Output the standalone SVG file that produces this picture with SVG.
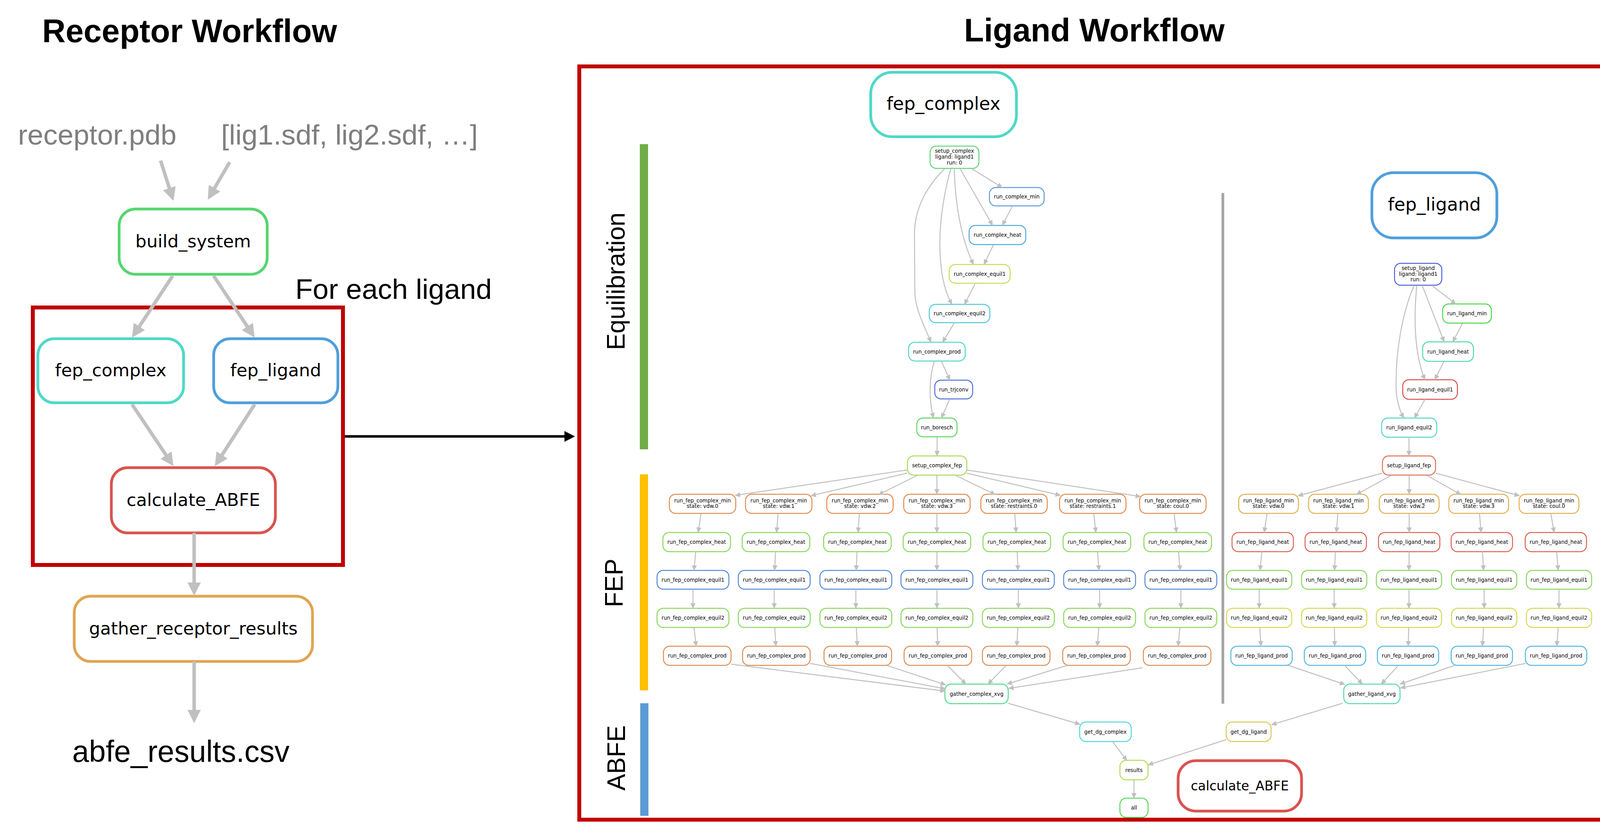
<svg xmlns="http://www.w3.org/2000/svg" width="4180" height="2150" viewBox="0 0 4180 2150">
<style>
.t{font-family:"DejaVu Sans",sans-serif;font-size:13.3px;text-anchor:middle;fill:#000}
.L{font-family:"DejaVu Sans",sans-serif;font-size:45px;text-anchor:middle;fill:#000}
.h{font-family:"Liberation Sans",Arial,sans-serif;font-weight:bold;font-size:83px;fill:#000}
.g{font-family:"Liberation Sans",Arial,sans-serif;font-size:73px;fill:#7f7f7f}
.k{font-family:"Liberation Sans",Arial,sans-serif;font-size:73px;fill:#000}
.v{font-family:"Liberation Sans",Arial,sans-serif;font-size:64px;fill:#000;text-anchor:middle}
.e{fill:none;stroke:#c0c0c0;stroke-width:2.5;marker-end:url(#a)}
.E{fill:none;stroke:#c0c0c0;stroke-width:9;marker-end:url(#A)}
rect.s{fill:#fff;stroke-width:2.5}
rect.b{fill:#fff;stroke-width:7}
.o1{stroke:#e08c50}.gr{stroke:#88d858}.bl{stroke:#5588dc}
.ym{stroke:#e0b050}.rh{stroke:#e06050}.ye{stroke:#d8d850}.cp{stroke:#50b8e0}
</style>
<defs>
<marker id="a" markerUnits="userSpaceOnUse" markerWidth="14" markerHeight="14" refX="13" refY="7" orient="auto" viewBox="0 0 14 14"><path d="M0,0.5 L14,7 L0,13.5 z" fill="#c0c0c0"/></marker>
<marker id="A" markerUnits="userSpaceOnUse" markerWidth="34" markerHeight="34" refX="4" refY="17" orient="auto" viewBox="0 0 34 34"><path d="M0,0 L34,17 L0,34 z" fill="#c0c0c0"/></marker>
<marker id="K" markerUnits="userSpaceOnUse" markerWidth="28" markerHeight="28" refX="1" refY="14" orient="auto" viewBox="0 0 28 28"><path d="M0,0.3 L27,14 L0,27.7 z" fill="#000"/></marker>
</defs>
<rect width="4180" height="2150" fill="#fff"/>

<!-- titles and labels -->
<text class="h" x="108" y="108">Receptor Workflow</text>
<text class="h" x="2468" y="106">Ligand Workflow</text>
<text class="g" x="46" y="370">receptor.pdb</text>
<text class="g" x="566" y="370">[lig1.sdf, lig2.sdf, …]</text>
<text class="k" x="756" y="765">For each ligand</text>
<text class="k" x="185" y="1950" style="font-size:77px">abfe_results.csv</text>

<!-- frames -->
<rect x="84" y="787" width="794" height="659" fill="none" stroke="#c00000" stroke-width="10"/>
<rect x="1483" y="170" width="2628" height="1928" fill="none" stroke="#c00000" stroke-width="10"/>
<line x1="883" y1="1117" x2="1446" y2="1117" stroke="#000" stroke-width="6.5" marker-end="url(#K)"/>

<!-- stage bars -->
<rect x="1638" y="369" width="21" height="781" fill="#70ad47"/>
<rect x="1638" y="1214" width="21" height="553" fill="#ffc000"/>
<rect x="1639" y="1800" width="21" height="288" fill="#5b9bd5"/>
<text class="v" transform="translate(1599,720) rotate(-90)">Equilibration</text>
<text class="v" transform="translate(1594,1492) rotate(-90)">FEP</text>
<text class="v" transform="translate(1600,1940) rotate(-90)">ABFE</text>
<line x1="3130.5" y1="494" x2="3130.5" y2="1801" stroke="#a6a6a6" stroke-width="7"/>

<!-- receptor workflow nodes -->
<g id="build_system"><rect class="b" x="305" y="535" width="379" height="167" rx="42" stroke="#55d66e"/><text class="L" x="494.5" y="633">build_system</text></g>
<g id="fep_complex_r"><rect class="b" x="97" y="867" width="373" height="164" rx="42" stroke="#4fd8c8"/><text class="L" x="283.5" y="963">fep_complex</text></g>
<g id="fep_ligand_r"><rect class="b" x="547" y="867" width="318" height="164" rx="42" stroke="#4f9fdc"/><text class="L" x="706" y="963">fep_ligand</text></g>
<g id="calculate_ABFE_r"><rect class="b" x="285" y="1197" width="420" height="167" rx="42" stroke="#d9534f"/><text class="L" x="495" y="1295">calculate_ABFE</text></g>
<g id="gather_receptor_results"><rect class="b" x="190" y="1526" width="610" height="167" rx="42" stroke="#e0a550"/><text class="L" x="495" y="1624">gather_receptor_results</text></g>

<!-- ligand workflow big nodes -->
<g id="fep_complex_big"><rect class="b" x="2229" y="185" width="373" height="165" rx="55" stroke="#4fd8c8"/><text class="L" x="2415.5" y="281" style="font-size:46px">fep_complex</text></g>
<g id="fep_ligand_big"><rect class="b" x="3512" y="442" width="320" height="167" rx="55" stroke="#4f9fdc"/><text class="L" x="3672" y="539" style="font-size:46px">fep_ligand</text></g>
<g id="calculate_ABFE_big"><rect class="b" x="3016" y="1947" width="316" height="129" rx="45" stroke="#d9534f"/><text class="L" x="3174" y="2023" style="font-size:33px">calculate_ABFE</text></g>

<!-- complex equilibration -->
<g id="setup_complex"><rect class="s" x="2381" y="374" width="125" height="57" rx="16" stroke="#5ed67a"/><text class="t" x="2443.5" y="390.5">setup_complex</text><text class="t" x="2443.5" y="405.5">ligand: ligand1</text><text class="t" x="2443.5" y="421">run: 0</text></g>
<g id="run_complex_min"><rect class="s" x="2533" y="480" width="140" height="47" rx="16" stroke="#5b9bdc"/><text class="t" x="2603" y="508">run_complex_min</text></g>
<g id="run_complex_heat"><rect class="s" x="2481" y="577" width="145" height="49" rx="16" stroke="#4fa9dc"/><text class="t" x="2553.5" y="606">run_complex_heat</text></g>
<g id="run_complex_equil1"><rect class="s" x="2430" y="677" width="156" height="48" rx="16" stroke="#c8dc55"/><text class="t" x="2508" y="705.5">run_complex_equil1</text></g>
<g id="run_complex_equil2"><rect class="s" x="2379" y="779" width="155" height="47" rx="16" stroke="#4fc8dc"/><text class="t" x="2456.5" y="807">run_complex_equil2</text></g>
<g id="run_complex_prod"><rect class="s" x="2326" y="876" width="145" height="48" rx="16" stroke="#4fd8c8"/><text class="t" x="2398.5" y="904.5">run_complex_prod</text></g>
<g id="run_trjconv"><rect class="s" x="2393" y="973" width="97" height="48" rx="16" stroke="#5070dc"/><text class="t" x="2441.5" y="1001.5">run_trjconv</text></g>
<g id="run_boresch"><rect class="s" x="2347" y="1070" width="103" height="48" rx="16" stroke="#5cd65c"/><text class="t" x="2398.5" y="1098.5">run_boresch</text></g>
<g id="setup_complex_fep"><rect class="s" x="2323" y="1167" width="152" height="49" rx="16" stroke="#a8dc55"/><text class="t" x="2399" y="1196">setup_complex_fep</text></g>

<!-- ligand equilibration -->
<g id="setup_ligand"><rect class="s" x="3570" y="674" width="121" height="56" rx="16" stroke="#5060dc"/><text class="t" x="3630.5" y="690.5">setup_ligand</text><text class="t" x="3630.5" y="705.5">ligand: ligand1</text><text class="t" x="3630.5" y="719.5">run: 0</text></g>
<g id="run_ligand_min"><rect class="s" x="3693" y="778" width="125" height="49" rx="16" stroke="#4cd64c"/><text class="t" x="3755.5" y="807">run_ligand_min</text></g>
<g id="run_ligand_heat"><rect class="s" x="3642" y="875" width="130" height="50" rx="16" stroke="#4fd8b0"/><text class="t" x="3707" y="904.5">run_ligand_heat</text></g>
<g id="run_ligand_equil1"><rect class="s" x="3591" y="972" width="140" height="50" rx="16" stroke="#d95050"/><text class="t" x="3661" y="1001.5">run_ligand_equil1</text></g>
<g id="run_ligand_equil2"><rect class="s" x="3537" y="1070" width="141" height="49" rx="16" stroke="#4fd8bf"/><text class="t" x="3607.5" y="1099">run_ligand_equil2</text></g>
<g id="setup_ligand_fep"><rect class="s" x="3539" y="1167" width="136" height="49" rx="16" stroke="#e07050"/><text class="t" x="3607" y="1196">setup_ligand_fep</text></g>

<!-- complex FEP columns -->
<g id="cmin0"><rect class="s o1" x="1713.5" y="1265" width="170" height="49" rx="16"/><text class="t" x="1798.5" y="1286">run_fep_complex_min</text><text class="t" x="1798.5" y="1300">state: vdw.0</text></g>
<g id="cmin1"><rect class="s o1" x="1908.5" y="1265" width="170" height="49" rx="16"/><text class="t" x="1993.5" y="1286">run_fep_complex_min</text><text class="t" x="1993.5" y="1300">state: vdw.1</text></g>
<g id="cmin2"><rect class="s o1" x="2116.5" y="1265" width="170" height="49" rx="16"/><text class="t" x="2201.5" y="1286">run_fep_complex_min</text><text class="t" x="2201.5" y="1300">state: vdw.2</text></g>
<g id="cmin3"><rect class="s o1" x="2313.5" y="1265" width="170" height="49" rx="16"/><text class="t" x="2398.5" y="1286">run_fep_complex_min</text><text class="t" x="2398.5" y="1300">state: vdw.3</text></g>
<g id="cmin4"><rect class="s o1" x="2511" y="1265" width="170" height="49" rx="16"/><text class="t" x="2596" y="1286">run_fep_complex_min</text><text class="t" x="2596" y="1300">state: restraints.0</text></g>
<g id="cmin5"><rect class="s o1" x="2712.5" y="1265" width="170" height="49" rx="16"/><text class="t" x="2797.5" y="1286">run_fep_complex_min</text><text class="t" x="2797.5" y="1300">state: restraints.1</text></g>
<g id="cmin6"><rect class="s o1" x="2917.5" y="1265" width="170" height="49" rx="16"/><text class="t" x="3002.5" y="1286">run_fep_complex_min</text><text class="t" x="3002.5" y="1300">state: coul.0</text></g>

<g id="cheat0"><rect class="s gr" x="1697" y="1363" width="173" height="49" rx="16"/><text class="t" x="1783.5" y="1392">run_fep_complex_heat</text></g>
<g id="cheat1"><rect class="s gr" x="1900" y="1363" width="173" height="49" rx="16"/><text class="t" x="1986.5" y="1392">run_fep_complex_heat</text></g>
<g id="cheat2"><rect class="s gr" x="2108.5" y="1363" width="173" height="49" rx="16"/><text class="t" x="2195" y="1392">run_fep_complex_heat</text></g>
<g id="cheat3"><rect class="s gr" x="2312" y="1363" width="173" height="49" rx="16"/><text class="t" x="2398.5" y="1392">run_fep_complex_heat</text></g>
<g id="cheat4"><rect class="s gr" x="2516.5" y="1363" width="173" height="49" rx="16"/><text class="t" x="2603" y="1392">run_fep_complex_heat</text></g>
<g id="cheat5"><rect class="s gr" x="2721.5" y="1363" width="173" height="49" rx="16"/><text class="t" x="2808" y="1392">run_fep_complex_heat</text></g>
<g id="cheat6"><rect class="s gr" x="2928.5" y="1363" width="173" height="49" rx="16"/><text class="t" x="3015" y="1392">run_fep_complex_heat</text></g>

<g id="ceqa0"><rect class="s bl" x="1682" y="1460" width="184" height="48" rx="16"/><text class="t" x="1774" y="1488.5">run_fep_complex_equil1</text></g>
<g id="ceqa1"><rect class="s bl" x="1890" y="1460" width="184" height="48" rx="16"/><text class="t" x="1982" y="1488.5">run_fep_complex_equil1</text></g>
<g id="ceqa2"><rect class="s bl" x="2099" y="1460" width="184" height="48" rx="16"/><text class="t" x="2191" y="1488.5">run_fep_complex_equil1</text></g>
<g id="ceqa3"><rect class="s bl" x="2306.5" y="1460" width="184" height="48" rx="16"/><text class="t" x="2398.5" y="1488.5">run_fep_complex_equil1</text></g>
<g id="ceqa4"><rect class="s bl" x="2515" y="1460" width="184" height="48" rx="16"/><text class="t" x="2607" y="1488.5">run_fep_complex_equil1</text></g>
<g id="ceqa5"><rect class="s bl" x="2723" y="1460" width="184" height="48" rx="16"/><text class="t" x="2815" y="1488.5">run_fep_complex_equil1</text></g>
<g id="ceqa6"><rect class="s bl" x="2931" y="1460" width="184" height="48" rx="16"/><text class="t" x="3023" y="1488.5">run_fep_complex_equil1</text></g>

<g id="ceqb0"><rect class="s gr" x="1682" y="1557" width="184" height="49" rx="16"/><text class="t" x="1774" y="1586">run_fep_complex_equil2</text></g>
<g id="ceqb1"><rect class="s gr" x="1890" y="1557" width="184" height="49" rx="16"/><text class="t" x="1982" y="1586">run_fep_complex_equil2</text></g>
<g id="ceqb2"><rect class="s gr" x="2099" y="1557" width="184" height="49" rx="16"/><text class="t" x="2191" y="1586">run_fep_complex_equil2</text></g>
<g id="ceqb3"><rect class="s gr" x="2306.5" y="1557" width="184" height="49" rx="16"/><text class="t" x="2398.5" y="1586">run_fep_complex_equil2</text></g>
<g id="ceqb4"><rect class="s gr" x="2515" y="1557" width="184" height="49" rx="16"/><text class="t" x="2607" y="1586">run_fep_complex_equil2</text></g>
<g id="ceqb5"><rect class="s gr" x="2723" y="1557" width="184" height="49" rx="16"/><text class="t" x="2815" y="1586">run_fep_complex_equil2</text></g>
<g id="ceqb6"><rect class="s gr" x="2931" y="1557" width="184" height="49" rx="16"/><text class="t" x="3023" y="1586">run_fep_complex_equil2</text></g>

<g id="cprod0"><rect class="s o1" x="1698.5" y="1654" width="173" height="49" rx="16"/><text class="t" x="1785" y="1683">run_fep_complex_prod</text></g>
<g id="cprod1"><rect class="s o1" x="1901" y="1654" width="173" height="49" rx="16"/><text class="t" x="1987.5" y="1683">run_fep_complex_prod</text></g>
<g id="cprod2"><rect class="s o1" x="2109.5" y="1654" width="173" height="49" rx="16"/><text class="t" x="2196" y="1683">run_fep_complex_prod</text></g>
<g id="cprod3"><rect class="s o1" x="2314.5" y="1654" width="173" height="49" rx="16"/><text class="t" x="2401" y="1683">run_fep_complex_prod</text></g>
<g id="cprod4"><rect class="s o1" x="2515" y="1654" width="173" height="49" rx="16"/><text class="t" x="2601.5" y="1683">run_fep_complex_prod</text></g>
<g id="cprod5"><rect class="s o1" x="2720.5" y="1654" width="173" height="49" rx="16"/><text class="t" x="2807" y="1683">run_fep_complex_prod</text></g>
<g id="cprod6"><rect class="s o1" x="2927" y="1654" width="173" height="49" rx="16"/><text class="t" x="3013.5" y="1683">run_fep_complex_prod</text></g>

<!-- ligand FEP columns -->
<g id="lmin0"><rect class="s ym" x="3171" y="1265" width="153" height="49" rx="16"/><text class="t" x="3247.5" y="1286">run_fep_ligand_min</text><text class="t" x="3247.5" y="1300">state: vdw.0</text></g>
<g id="lmin1"><rect class="s ym" x="3350" y="1265" width="153" height="49" rx="16"/><text class="t" x="3426.5" y="1286">run_fep_ligand_min</text><text class="t" x="3426.5" y="1300">state: vdw.1</text></g>
<g id="lmin2"><rect class="s ym" x="3531" y="1265" width="153" height="49" rx="16"/><text class="t" x="3607.5" y="1286">run_fep_ligand_min</text><text class="t" x="3607.5" y="1300">state: vdw.2</text></g>
<g id="lmin3"><rect class="s ym" x="3709" y="1265" width="153" height="49" rx="16"/><text class="t" x="3785.5" y="1286">run_fep_ligand_min</text><text class="t" x="3785.5" y="1300">state: vdw.3</text></g>
<g id="lmin4"><rect class="s ym" x="3889" y="1265" width="153" height="49" rx="16"/><text class="t" x="3965.5" y="1286">run_fep_ligand_min</text><text class="t" x="3965.5" y="1300">state: coul.0</text></g>

<g id="lheat0"><rect class="s rh" x="3154" y="1363" width="157" height="49" rx="16"/><text class="t" x="3232.5" y="1392">run_fep_ligand_heat</text></g>
<g id="lheat1"><rect class="s rh" x="3341" y="1363" width="157" height="49" rx="16"/><text class="t" x="3419.5" y="1392">run_fep_ligand_heat</text></g>
<g id="lheat2"><rect class="s rh" x="3529" y="1363" width="157" height="49" rx="16"/><text class="t" x="3607.5" y="1392">run_fep_ligand_heat</text></g>
<g id="lheat3"><rect class="s rh" x="3715" y="1363" width="157" height="49" rx="16"/><text class="t" x="3793.5" y="1392">run_fep_ligand_heat</text></g>
<g id="lheat4"><rect class="s rh" x="3904.5" y="1363" width="157" height="49" rx="16"/><text class="t" x="3983" y="1392">run_fep_ligand_heat</text></g>

<g id="leqa0"><rect class="s gr" x="3140" y="1460" width="167" height="48" rx="16"/><text class="t" x="3223.5" y="1488.5">run_fep_ligand_equil1</text></g>
<g id="leqa1"><rect class="s gr" x="3332" y="1460" width="167" height="48" rx="16"/><text class="t" x="3415.5" y="1488.5">run_fep_ligand_equil1</text></g>
<g id="leqa2"><rect class="s gr" x="3523.5" y="1460" width="167" height="48" rx="16"/><text class="t" x="3607" y="1488.5">run_fep_ligand_equil1</text></g>
<g id="leqa3"><rect class="s gr" x="3716" y="1460" width="167" height="48" rx="16"/><text class="t" x="3799.5" y="1488.5">run_fep_ligand_equil1</text></g>
<g id="leqa4"><rect class="s gr" x="3907.5" y="1460" width="167" height="48" rx="16"/><text class="t" x="3991" y="1488.5">run_fep_ligand_equil1</text></g>

<g id="leqb0"><rect class="s ye" x="3140" y="1557" width="167" height="49" rx="16"/><text class="t" x="3223.5" y="1586">run_fep_ligand_equil2</text></g>
<g id="leqb1"><rect class="s ye" x="3332" y="1557" width="167" height="49" rx="16"/><text class="t" x="3415.5" y="1586">run_fep_ligand_equil2</text></g>
<g id="leqb2"><rect class="s ye" x="3523.5" y="1557" width="167" height="49" rx="16"/><text class="t" x="3607" y="1586">run_fep_ligand_equil2</text></g>
<g id="leqb3"><rect class="s ye" x="3716" y="1557" width="167" height="49" rx="16"/><text class="t" x="3799.5" y="1586">run_fep_ligand_equil2</text></g>
<g id="leqb4"><rect class="s ye" x="3907.5" y="1557" width="167" height="49" rx="16"/><text class="t" x="3991" y="1586">run_fep_ligand_equil2</text></g>

<g id="lprod0"><rect class="s cp" x="3151" y="1654" width="157" height="49" rx="16"/><text class="t" x="3229.5" y="1683">run_fep_ligand_prod</text></g>
<g id="lprod1"><rect class="s cp" x="3339" y="1654" width="157" height="49" rx="16"/><text class="t" x="3417.5" y="1683">run_fep_ligand_prod</text></g>
<g id="lprod2"><rect class="s cp" x="3526" y="1654" width="157" height="49" rx="16"/><text class="t" x="3604.5" y="1683">run_fep_ligand_prod</text></g>
<g id="lprod3"><rect class="s cp" x="3715" y="1654" width="157" height="49" rx="16"/><text class="t" x="3793.5" y="1683">run_fep_ligand_prod</text></g>
<g id="lprod4"><rect class="s cp" x="3905" y="1654" width="157" height="49" rx="16"/><text class="t" x="3983.5" y="1683">run_fep_ligand_prod</text></g>

<!-- ABFE section -->
<g id="gather_complex_xvg"><rect class="s" x="2419" y="1751" width="162" height="50" rx="16" stroke="#50dc88"/><text class="t" x="2500" y="1780.5">gather_complex_xvg</text></g>
<g id="gather_ligand_xvg"><rect class="s" x="3440" y="1751" width="144" height="50" rx="16" stroke="#50dca8"/><text class="t" x="3512" y="1780.5">gather_ligand_xvg</text></g>
<g id="get_dg_complex"><rect class="s" x="2764" y="1848" width="132" height="50" rx="16" stroke="#50d8dc"/><text class="t" x="2830" y="1877.5">get_dg_complex</text></g>
<g id="get_dg_ligand"><rect class="s" x="3139" y="1848" width="115" height="50" rx="16" stroke="#d8c850"/><text class="t" x="3196.5" y="1877.5">get_dg_ligand</text></g>
<g id="results"><rect class="s" x="2867" y="1946" width="72" height="50" rx="16" stroke="#b0dc50"/><text class="t" x="2903" y="1975.5">results</text></g>
<g id="all"><rect class="s" x="2867" y="2043" width="72" height="49" rx="16" stroke="#5cd65c"/><text class="t" x="2903" y="2072">all</text></g>

<!-- connectors -->
<g id="connectors">
<path class="E" d="M411,411 L434.8,485.4"/>
<path class="E" d="M588,415 L547.1,485.1"/>
<path class="E" d="M442,706 L354.5,839"/>
<path class="E" d="M547,706 L635.4,839"/>
<path class="E" d="M338,1035 L427.3,1168.1"/>
<path class="E" d="M652,1035 L566.3,1167.8"/>
<path class="E" d="M497,1364 L497,1495"/>
<path class="E" d="M497,1693 L497,1821"/>

<path class="e" d="M2418,432 C2375,475 2341,530 2341,600 L2342,750 C2345,800 2370,840 2383,876"/>
<path class="e" d="M2434,432 C2420,480 2405,560 2406,627 C2407,700 2418,745 2437,779"/>
<path class="e" d="M2443,432 C2445,520 2460,610 2492,677"/>
<path class="e" d="M2458,432 L2541,577"/>
<path class="e" d="M2488,432 L2566,480"/>
<path class="e" d="M2591,529 L2566,577"/>
<path class="e" d="M2543,627 L2519,677"/>
<path class="e" d="M2496,727 L2469,779"/>
<path class="e" d="M2442,828 L2413,876"/>
<path class="e" d="M2410,925 L2432,973"/>
<path class="e" d="M2392,925 C2380,960 2376,1020 2390,1070"/>
<path class="e" d="M2431,1022 L2410,1070"/>
<path class="e" d="M2399,1119 L2399,1167"/>

<path class="e" d="M3666,731 L3727,778"/>
<path class="e" d="M3641,731 L3697,875"/>
<path class="e" d="M3627,731 C3620,800 3618,900 3648,972"/>
<path class="e" d="M3620,731 C3590,800 3572,900 3574,996 C3576,1030 3585,1055 3594,1070"/>
<path class="e" d="M3744,828 L3719,875"/>
<path class="e" d="M3696,926 L3673,972"/>
<path class="e" d="M3648,1022 L3621,1070"/>
<path class="e" d="M3607,1119 L3607,1167"/>

<path class="e" d="M2322,1203 L1882,1268"/>
<path class="e" d="M2322,1211 L2076,1269"/>
<path class="e" d="M2348,1217 L2249,1266"/>
<path class="e" d="M2398.5,1217 L2398.5,1265"/>
<path class="e" d="M2447,1217 L2548,1266"/>
<path class="e" d="M2475,1211 L2715,1268"/>
<path class="e" d="M2475,1203 L2920,1271"/>

<path class="e" d="M1794.75,1314 L1787.25,1363"/>
<path class="e" d="M1781.1,1412 L1776.4,1460"/>
<path class="e" d="M1774,1508 L1774,1557"/>
<path class="e" d="M1776.75,1606 L1782.25,1654"/>
<path class="e" d="M1991.75,1314 L1988.25,1363"/>
<path class="e" d="M1985.4,1412 L1983.1,1460"/>
<path class="e" d="M1982,1508 L1982,1557"/>
<path class="e" d="M1983.4,1606 L1986.1,1654"/>
<path class="e" d="M2199.9,1314 L2196.6,1363"/>
<path class="e" d="M2194,1412 L2192,1460"/>
<path class="e" d="M2191,1508 L2191,1557"/>
<path class="e" d="M2192.25,1606 L2194.75,1654"/>
<path class="e" d="M2398.5,1314 L2398.5,1363"/>
<path class="e" d="M2398.5,1412 L2398.5,1460"/>
<path class="e" d="M2398.5,1508 L2398.5,1557"/>
<path class="e" d="M2399.1,1606 L2400.4,1654"/>
<path class="e" d="M2597.75,1314 L2601.25,1363"/>
<path class="e" d="M2604,1412 L2606,1460"/>
<path class="e" d="M2607,1508 L2607,1557"/>
<path class="e" d="M2605.6,1606 L2602.9,1654"/>
<path class="e" d="M2800.1,1314 L2805.4,1363"/>
<path class="e" d="M2809.75,1412 L2813.25,1460"/>
<path class="e" d="M2815,1508 L2815,1557"/>
<path class="e" d="M2813,1606 L2809,1654"/>
<path class="e" d="M3005.6,1314 L3011.9,1363"/>
<path class="e" d="M3017,1412 L3021,1460"/>
<path class="e" d="M3023,1508 L3023,1557"/>
<path class="e" d="M3020.6,1606 L3015.9,1654"/>

<path class="e" d="M1872,1700 L2420,1769"/>
<path class="e" d="M2074,1698 L2420,1763"/>
<path class="e" d="M2270,1703 L2421,1753"/>
<path class="e" d="M2425,1703 L2473,1751"/>
<path class="e" d="M2576,1703 L2529,1751"/>
<path class="e" d="M2732,1703 L2578,1751"/>
<path class="e" d="M2925,1709 L2582,1762"/>

<path class="e" d="M3539,1211 L3323,1269"/>
<path class="e" d="M3561,1217 L3472,1266"/>
<path class="e" d="M3607.5,1217 L3607.5,1265"/>
<path class="e" d="M3653,1217 L3740,1266"/>
<path class="e" d="M3675,1211 L3890,1269"/>

<path class="e" d="M3243.75,1314 L3236.25,1363"/>
<path class="e" d="M3230.25,1412 L3225.75,1460"/>
<path class="e" d="M3223.5,1508 L3223.5,1557"/>
<path class="e" d="M3225,1606 L3228,1654"/>
<path class="e" d="M3424.75,1314 L3421.25,1363"/>
<path class="e" d="M3418.5,1412 L3416.5,1460"/>
<path class="e" d="M3415.5,1508 L3415.5,1557"/>
<path class="e" d="M3416,1606 L3417,1654"/>
<path class="e" d="M3607.5,1314 L3607.5,1363"/>
<path class="e" d="M3607.4,1412 L3607.1,1460"/>
<path class="e" d="M3607,1508 L3607,1557"/>
<path class="e" d="M3606.4,1606 L3605.1,1654"/>
<path class="e" d="M3787.5,1314 L3791.5,1363"/>
<path class="e" d="M3795,1412 L3798,1460"/>
<path class="e" d="M3799.5,1508 L3799.5,1557"/>
<path class="e" d="M3798,1606 L3795,1654"/>
<path class="e" d="M3969.9,1314 L3978.6,1363"/>
<path class="e" d="M3985,1412 L3989,1460"/>
<path class="e" d="M3991,1508 L3991,1557"/>
<path class="e" d="M3989.1,1606 L3985.4,1654"/>

<path class="e" d="M3298,1703 L3443,1752"/>
<path class="e" d="M3442,1703 L3488,1751"/>
<path class="e" d="M3580,1703 L3536,1751"/>
<path class="e" d="M3724,1703 L3584,1751"/>
<path class="e" d="M3906,1698 L3585,1761"/>

<path class="e" d="M2581,1800 L2765,1854"/>
<path class="e" d="M3437,1800 L3255,1855"/>
<path class="e" d="M2848,1898 L2885,1947"/>
<path class="e" d="M3139,1893 L2939,1958"/>
<path class="e" d="M2903,1996 L2903,2043"/>
</g>
</svg>
